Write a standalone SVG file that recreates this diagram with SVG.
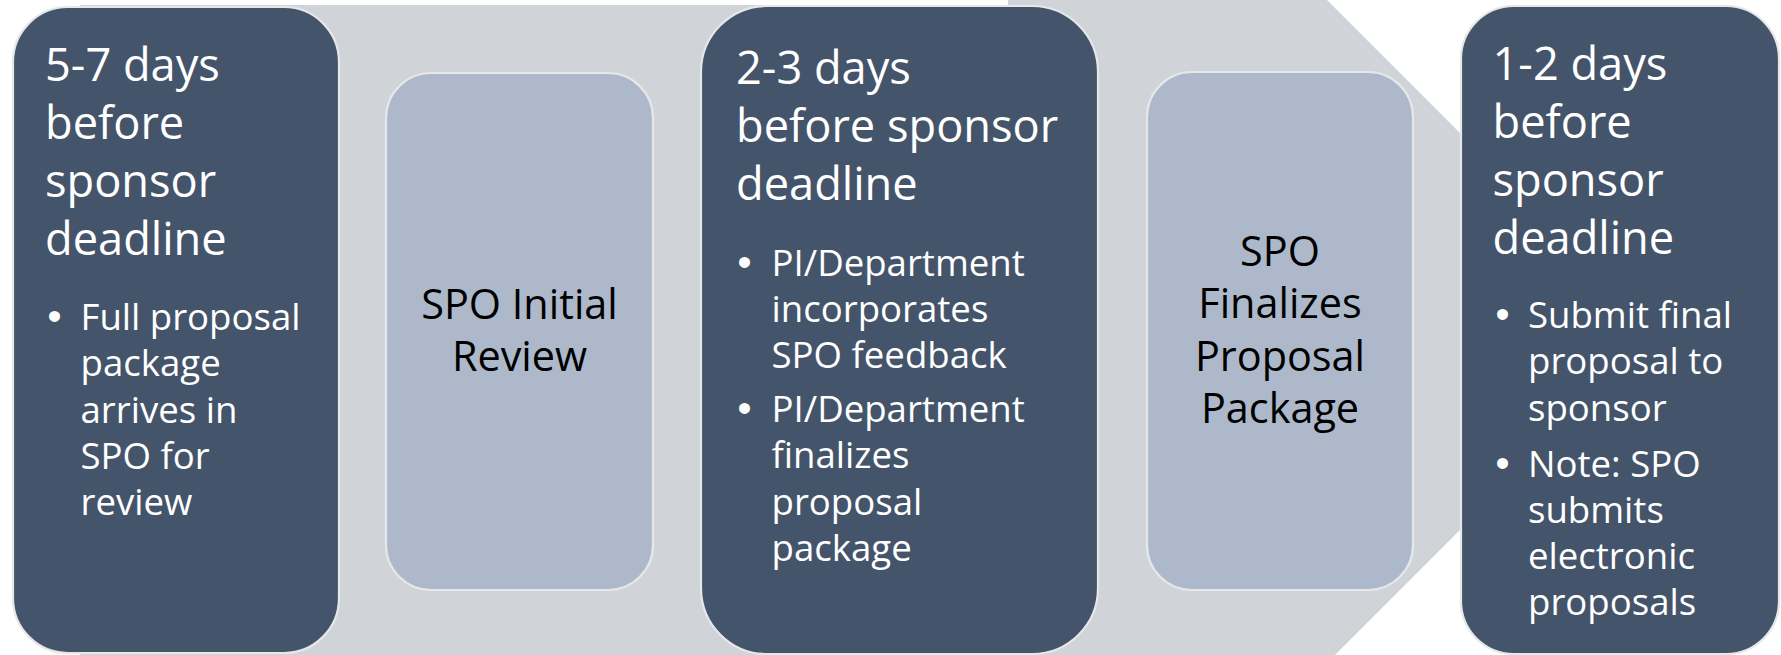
<svg xmlns="http://www.w3.org/2000/svg" width="1781" height="655" viewBox="0 0 1781 655">
<style>
.band{fill:#D0D3D8;}
.dark{fill:#44546A;stroke:#E6E7E9;stroke-width:2.2;}
.light{fill:#ADB9CA;stroke:#E6E7E9;stroke-width:2.2;}
.h{font-family:"Open Sans","Liberation Sans",sans-serif;font-size:45.2px;fill:#FFFFFF;}
.b{font-family:"Open Sans","Liberation Sans",sans-serif;font-size:36.6px;fill:#FFFFFF;}
.dot{font-family:"Liberation Sans","Open Sans",sans-serif;font-size:40px;fill:#FFFFFF;text-anchor:middle;}
.m{font-family:"Open Sans","Liberation Sans",sans-serif;font-size:41.4px;fill:#000000;text-anchor:middle;}
</style>
<rect width="1781" height="655" fill="#FFFFFF"/>
<g id="connectors">
<polygon id="flow-arrow" class="band" points="80,5 1008,5 1008,-319 1658.5,331.5 1008,982 1008,658 80,658"/>
</g>
<g id="node-1">
<rect class="dark" x="13" y="7" width="326" height="646" rx="55" ry="55"/>
<text class="h"><tspan x="45" y="81">5-7 days</tspan><tspan x="45" y="139">before</tspan><tspan x="45" y="197">sponsor</tspan><tspan x="45" y="255">deadline</tspan></text>
<text class="dot" x="54.5" y="330">•</text>
<text class="b"><tspan x="80.5" y="330">Full proposal</tspan><tspan x="80.5" y="376.3">package</tspan><tspan x="80.5" y="422.6">arrives in</tspan><tspan x="80.5" y="468.9">SPO for</tspan><tspan x="80.5" y="515.2">review</tspan></text>
</g>
<g id="node-2">
<rect class="light" x="386" y="73" width="267" height="517" rx="45" ry="45"/>
<text class="m"><tspan x="519.5" y="318.5">SPO Initial</tspan><tspan x="519.5" y="371">Review</tspan></text>
</g>
<g id="node-3">
<rect class="dark" x="701" y="6" width="397" height="648" rx="66" ry="66"/>
<text class="h"><tspan x="736" y="84">2-3 days</tspan><tspan x="736" y="142">before sponsor</tspan><tspan x="736" y="200">deadline</tspan></text>
<text class="dot" x="744.5" y="275.5">•</text>
<text class="dot" x="744.5" y="422">•</text>
<text class="b"><tspan x="771.5" y="275.5">PI/Department</tspan><tspan x="771.5" y="321.8">incorporates</tspan><tspan x="771.5" y="368.1">SPO feedback</tspan><tspan x="771.5" y="422">PI/Department</tspan><tspan x="771.5" y="468.3">finalizes</tspan><tspan x="771.5" y="514.6">proposal</tspan><tspan x="771.5" y="560.9">package</tspan></text>
</g>
<g id="node-4">
<rect class="light" x="1147" y="72" width="266" height="518" rx="45" ry="45"/>
<text class="m"><tspan x="1280" y="265.5">SPO</tspan><tspan x="1280" y="318">Finalizes</tspan><tspan x="1280" y="370.5">Proposal</tspan><tspan x="1280" y="423">Package</tspan></text>
</g>
<g id="node-5">
<rect class="dark" x="1461" y="6" width="318" height="648" rx="53" ry="53"/>
<text class="h"><tspan x="1492.5" y="80">1-2 days</tspan><tspan x="1492.5" y="138">before</tspan><tspan x="1492.5" y="196">sponsor</tspan><tspan x="1492.5" y="254">deadline</tspan></text>
<text class="dot" x="1502.5" y="328">•</text>
<text class="dot" x="1502.5" y="476.5">•</text>
<text class="b"><tspan x="1528" y="328">Submit final</tspan><tspan x="1528" y="374.3">proposal to</tspan><tspan x="1528" y="420.6">sponsor</tspan><tspan x="1528" y="476.5">Note: SPO</tspan><tspan x="1528" y="522.8">submits</tspan><tspan x="1528" y="569.1">electronic</tspan><tspan x="1528" y="615.4">proposals</tspan></text>
</g>
</svg>
